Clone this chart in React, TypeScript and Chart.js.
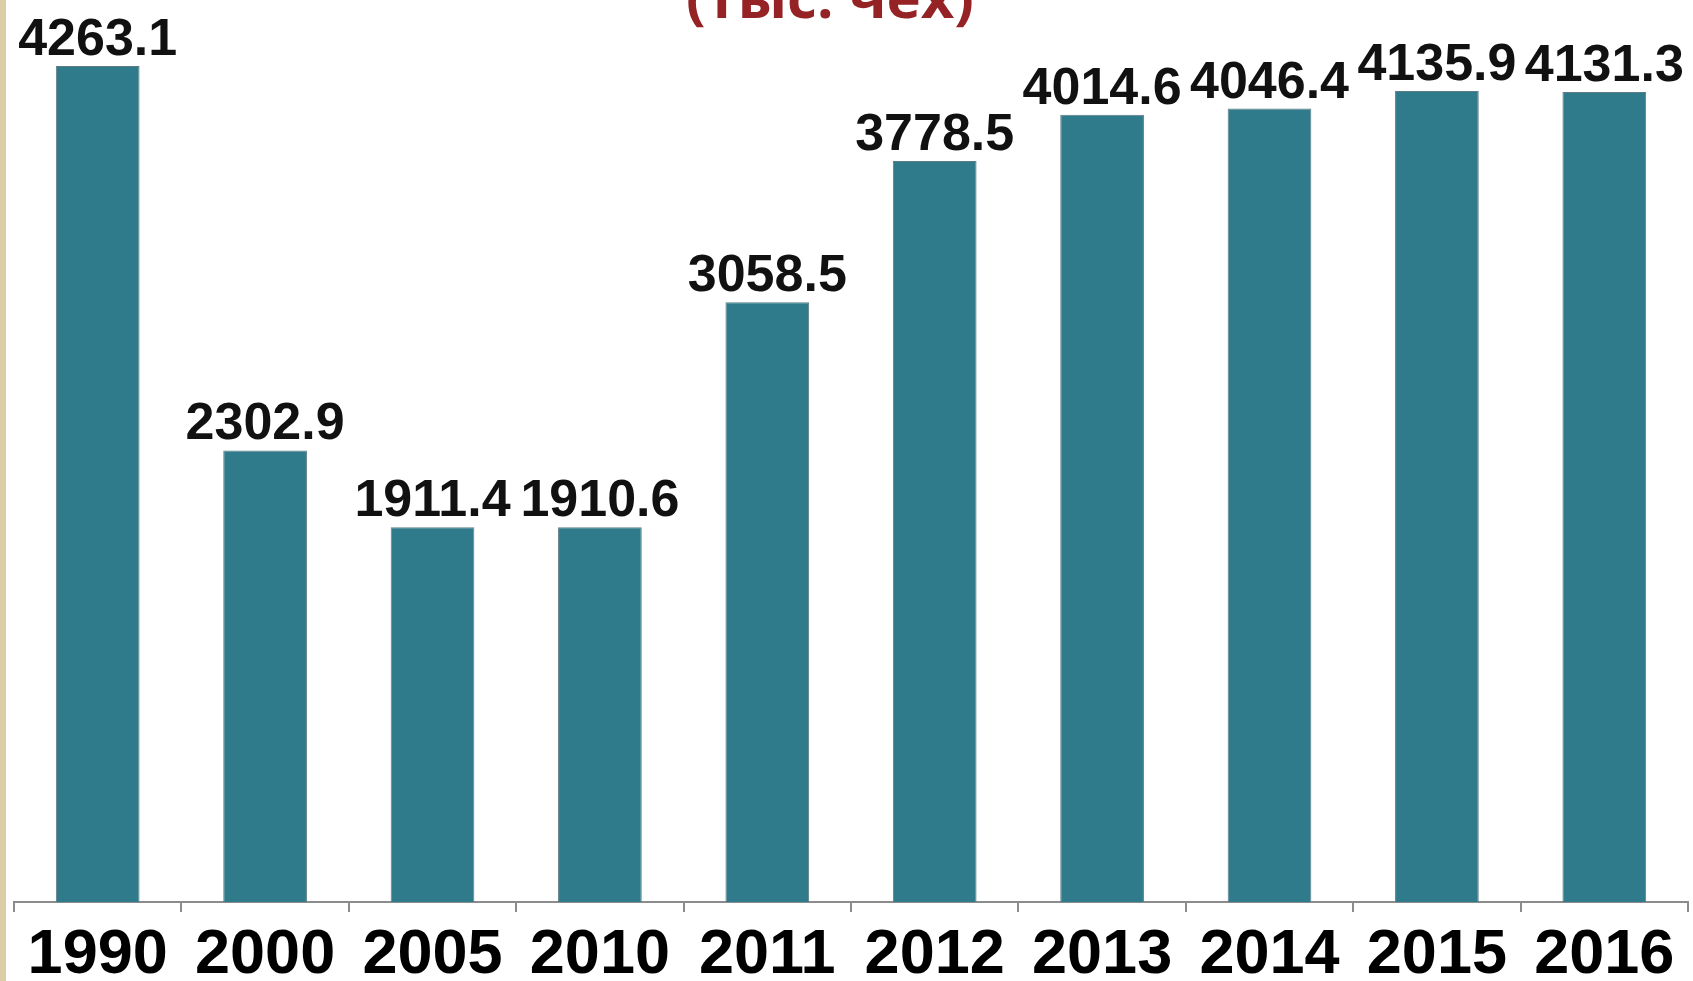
import React, { useEffect, useRef } from "react";
import { Chart, registerables } from "chart.js";

Chart.register(...registerables);

const years = ["1990", "2000", "2005", "2010", "2011", "2012", "2013", "2014", "2015", "2016"];
const values = [4263.1, 2302.9, 1911.4, 1910.6, 3058.5, 3778.5, 4014.6, 4046.4, 4135.9, 4131.3];
const titleText = "(тыс. чех)";

const valueLabels = {
  id: "valueLabels",
  afterDatasetsDraw(chart: any) {
    const ctx = chart.ctx;
    const meta = chart.getDatasetMeta(0);
    ctx.save();
    ctx.font = "bold 52px 'Liberation Sans', Arial, sans-serif";
    ctx.fillStyle = "#111111";
    ctx.textAlign = "center";
    ctx.textBaseline = "alphabetic";
    meta.data.forEach((bar: any, i: number) => {
      ctx.fillText(values[i].toFixed(1), bar.x, bar.y - 11);
    });
    ctx.restore();
  },
};

const topTitle = {
  id: "topTitle",
  afterDraw(chart: any) {
    const ctx = chart.ctx;
    ctx.save();
    ctx.font = "bold 58px 'Open Sans', sans-serif";
    ctx.fillStyle = "#952224";
    ctx.textAlign = "center";
    ctx.textBaseline = "alphabetic";
    ctx.fillText(titleText, 830, 18);
    ctx.restore();
  },
};

export default function App() {
  const ref = useRef<HTMLCanvasElement | null>(null);
  useEffect(() => {
    if (!ref.current) return;
    const chart = new Chart(ref.current, {
      type: "bar",
      data: {
        labels: years,
        datasets: [
          {
            data: values,
            backgroundColor: "#2f7b8b",
            borderColor: "#5b7c84",
            borderWidth: 1,
            barPercentage: 0.5,
            categoryPercentage: 1,
          },
        ],
      },
      options: {
        animation: false,
        responsive: true,
        maintainAspectRatio: false,
        layout: { padding: { left: 14, right: 5, top: 0, bottom: 0 } },
        plugins: { legend: { display: false }, tooltip: { enabled: false }, title: { display: false } },
        scales: {
          x: {
            offset: true,
            grid: {
              display: true,
              drawOnChartArea: false,
              drawTicks: true,
              tickLength: 10,
              color: "#8c8c8c",
              lineWidth: 2,
            },
            border: { display: true, color: "#8c8c8c", width: 2 },
            ticks: {
              color: "#000000",
              padding: 6,
              font: { family: "'Liberation Sans', Arial, sans-serif", size: 63, weight: "bold" },
              maxRotation: 0,
              autoSkip: false,
            },
            afterFit(scale: any) {
              scale.height = 79;
            },
          },
          y: { display: false, min: 0, max: 4600 },
        },
      },
      plugins: [valueLabels, topTitle],
    });
    return () => chart.destroy();
  }, []);
  return (
    <div style={{ position: "fixed", left: 0, top: 0, width: 1693, height: 981, background: "#ffffff" }}>
      <div style={{ position: "absolute", left: 0, top: 0, width: 6, height: 981, background: "#dccda6" }} />
      <div style={{ position: "absolute", left: 0, top: 0, width: 1693, height: 981 }}>
        <canvas ref={ref} />
      </div>
    </div>
  );
}
